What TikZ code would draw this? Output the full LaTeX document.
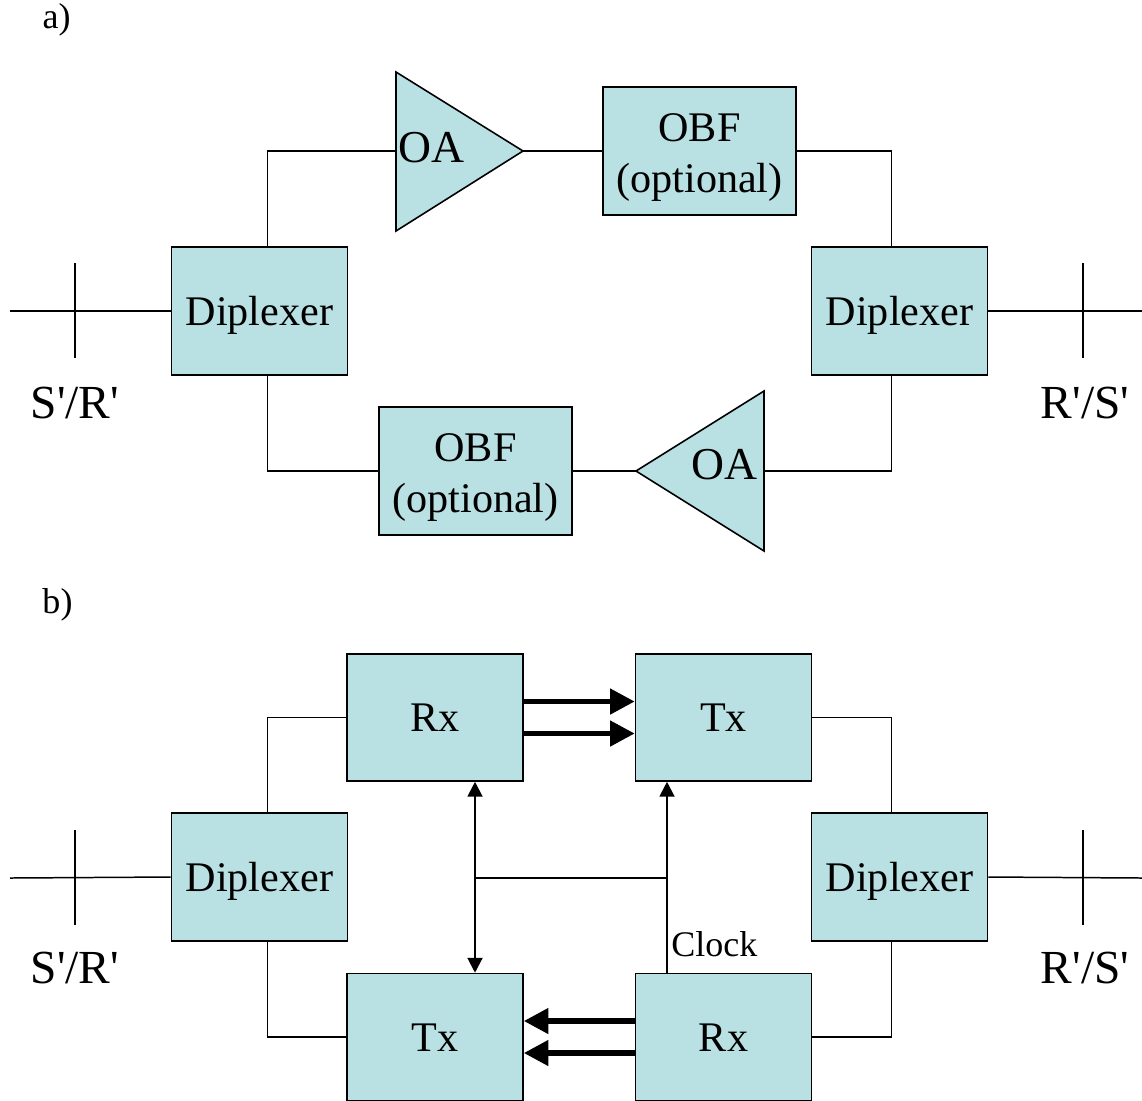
\documentclass[tikz,border=0pt]{standalone}
\usepackage{fontspec}
\setmainfont{Liberation Serif}
\usetikzlibrary{arrows.meta,calc}
\definecolor{boxfill}{RGB}{185,224,227}
\newcommand{\qs}{\textquotesingle}
\tikzset{
  blk/.style={draw=black, line width=0.9pt, fill=boxfill, inner sep=0pt, minimum width=3.52cm, minimum height=2.56cm, font=\fontsize{24}{29}\selectfont, align=center},
  onel/.style={text height=16pt, text depth=0pt},
  obfbox/.style={blk, minimum width=3.86cm},
  trxbox/.style={blk, onel, minimum height=2.54cm},
  wire/.style={draw=black, line width=0.85pt},
  tri/.style={draw=black, line width=0.9pt, fill=boxfill, line join=miter},
  lbl/.style={font=\fontsize{27}{32}\selectfont, inner sep=0pt},
  small/.style={font=\fontsize{20.5}{24}\selectfont, inner sep=0pt},
  fat/.style={line width=3.2pt, -{Triangle[length=14pt,width=14pt]}},
  thin2/.style={line width=1.2pt}
}
\begin{document}
\begin{tikzpicture}[x=0.02cm, y=-0.02cm]
\useasboundingbox (0,0) rectangle (1142,1100);
% ---------------- a) ----------------
\node[small] (la) at (56.5,20) {a)};
\node[blk, onel] (dA1) at (259.5,311) {Diplexer};
\node[blk, onel] (dA2) at (899.5,311) {Diplexer};
\node[obfbox] (obf1) at (699.5,151) {\rule{0pt}{23pt}OBF\\(optional)};
\node[obfbox] (obf2) at (475.5,471) {\rule{0pt}{23pt}OBF\\(optional)};
% amplifiers
\coordinate (oa1in) at (396,151);
\coordinate (oa1out) at (523,151);
\draw[tri] (396,72) -- (oa1out) -- (396,231) -- cycle;
\node[anchor=west, inner sep=0pt, font=\fontsize{26}{31}\selectfont] (oa1) at (398,148) {OA};
\coordinate (oa2in) at (764,471);
\coordinate (oa2out) at (636,471);
\draw[tri] (764,391) -- (oa2out) -- (764,551) -- cycle;
\node[anchor=east, inner sep=0pt, font=\fontsize{26}{31}\selectfont] (oa2) at (758,465) {OA};
% connectors
\draw[wire] ([xshift=0.16cm]dA1.north) |- (oa1in);
\draw[wire] (oa1out) -- (obf1.west);
\draw[wire] (obf1.east) -| ([xshift=-0.16cm]dA2.north);
\draw[wire] ([xshift=-0.16cm]dA2.south) |- (oa2in);
\draw[wire] (oa2out) -- (obf2.east);
\draw[wire] (obf2.west) -| ([xshift=0.16cm]dA1.south);
% terminals
\coordinate (tA1) at (10,311);
\coordinate (kA1t) at (75,263);
\coordinate (kA1b) at (75,358);
\draw[wire] (dA1.west) -- (tA1);
\draw[wire] (kA1t) -- (kA1b);
\node[lbl] (sA1) at (75,403) {S\qs/R\qs};
\coordinate (tA2) at (1142,311);
\coordinate (kA2t) at (1083,263);
\coordinate (kA2b) at (1083,358);
\draw[wire] (dA2.east) -- (tA2);
\draw[wire] (kA2t) -- (kA2b);
\node[lbl] (sA2) at (1085,403) {R\qs/S\qs};
% ---------------- b) ----------------
\node[small] (lb) at (57.5,605) {b)};
\node[blk, onel] (dB1) at (259.5,877) {Diplexer};
\node[blk, onel] (dB2) at (899.5,877) {Diplexer};
\node[trxbox] (rx1) at (435,717.5) {Rx};
\node[trxbox] (tx1) at (723.5,717.5) {Tx};
\node[trxbox] (tx2) at (435,1037) {Tx};
\node[trxbox] (rx2) at (723.5,1037) {Rx};
\draw[wire] ([xshift=0.16cm]dB1.north) |- (rx1.west);
\draw[wire] (tx1.east) -| ([xshift=-0.16cm]dB2.north);
\draw[wire] ([xshift=-0.16cm]dB2.south) |- (rx2.east);
\draw[wire] (tx2.west) -| ([xshift=0.16cm]dB1.south);
% data arrows
\draw[fat] ([yshift=0.32cm]rx1.east) -- ([yshift=0.32cm]tx1.west);
\draw[fat] ([yshift=-0.32cm]rx1.east) -- ([yshift=-0.32cm]tx1.west);
\draw[fat] ([yshift=0.32cm]rx2.west) -- ([yshift=0.32cm]tx2.east);
\draw[fat] ([yshift=-0.32cm]rx2.west) -- ([yshift=-0.32cm]tx2.east);
% vertical links
\coordinate (bx) at (475,878);
\coordinate (cx) at (667,878);
\draw[thin2, {Triangle[length=8.5pt,width=8.5pt]}-{Triangle[length=8.5pt,width=8.5pt]}] (bx |- rx1.south) -- (bx |- tx2.north);
\draw[thin2, -{Triangle[length=8.5pt,width=8.5pt]}] (cx |- rx2.north) -- (cx |- tx1.south);
\draw[wire] (bx) -- (cx);
\node[small, anchor=west] (clk) at (671,944) {Clock};
% terminals
\coordinate (tB1) at (10,878);
\coordinate (kB1t) at (75,830);
\coordinate (kB1b) at (75,925);
\draw[wire] (dB1.west) -- (tB1);
\draw[wire] (kB1t) -- (kB1b);
\node[lbl] (sB1) at (75,968) {S\qs/R\qs};
\coordinate (tB2) at (1142,878);
\coordinate (kB2t) at (1083,830);
\coordinate (kB2b) at (1083,925);
\draw[wire] (dB2.east) -- (tB2);
\draw[wire] (kB2t) -- (kB2b);
\node[lbl] (sB2) at (1085,968) {R\qs/S\qs};
\end{tikzpicture}
\end{document}
